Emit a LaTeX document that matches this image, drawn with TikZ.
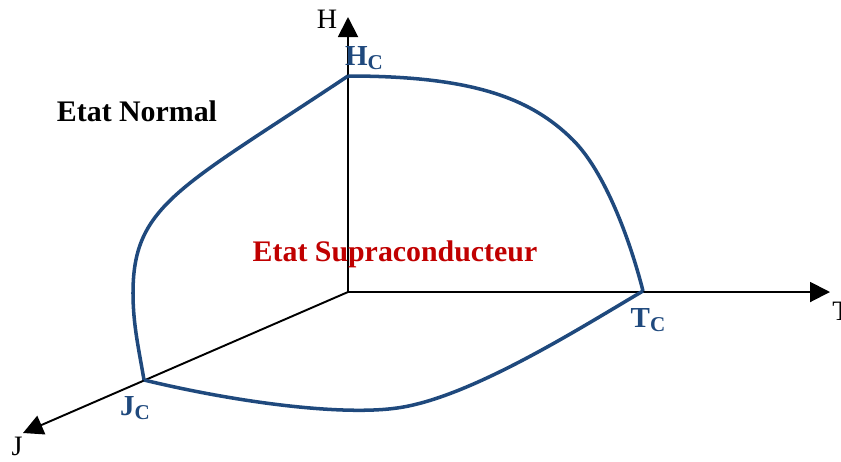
\documentclass[tikz,border=0pt]{standalone}
\usepackage{fontspec}
\setmainfont{Liberation Serif}
\usetikzlibrary{arrows.meta}
\definecolor{bleuc}{HTML}{1F497D}
\definecolor{rouge}{HTML}{C00000}
\tikzset{
  axe/.style={line width=1.1pt,-{Triangle[length=0.4cm,width=0.4cm]}},
  courbe/.style={line width=2pt,bleuc,line join=round},
  lbl/.style={inner sep=0pt,font=\fontsize{16}{18}\selectfont},
  crit/.style={lbl,bleuc,font=\fontsize{16.5}{18}\selectfont\bfseries},
  etat/.style={lbl,font=\fontsize{17}{20}\selectfont\bfseries}
}
\newcommand{\indc}{\raisebox{-0.12em}{\fontsize{12}{12}\selectfont C}}
\begin{document}
\begin{tikzpicture}[x=0.02cm,y=-0.02cm]
\useasboundingbox (0,0) rectangle (841,461);
% axes
\coordinate (O) at (348,292);
\coordinate (Hax) at (348,17);
\coordinate (Tax) at (830,292);
\coordinate (Jax) at (23,433);
\draw[axe] (O) -- (Hax);
\draw[axe] (O) -- (Tax);
\draw[axe] (O) -- (Jax);
\node[lbl] (H) at (327,19) {H};
\node[lbl] (T) at (841,311) {T};
\node[lbl] (J) at (17,446) {J};
% points critiques
\coordinate (Hc) at (348,76);
\coordinate (Tc) at (643,291);
\coordinate (Jc) at (144,380);
\coordinate (a) at (573,140);
\coordinate (b) at (133,293);
\coordinate (c) at (397,408);
% surface critique
\draw[courbe] (Hc) .. controls (470,76) and (530,97) .. (a)
  .. controls (605,172) and (630,240) .. (Tc);
\draw[courbe] (Hc) .. controls (180,188) and (133,205) .. (b)
  .. controls (133,325) and (139,350) .. (Jc);
\draw[courbe] (Jc) .. controls (235,402) and (340,416) .. (c)
  .. controls (470,398) and (580,328) .. (Tc);
\node[crit] (hc) at (364,58) {H\indc};
\node[crit] (tc) at (648,320) {T\indc};
\node[crit] (jc) at (135,408) {J\indc};
% etats
\node[etat] (normal) at (137,111) {Etat Normal};
\node[etat,rouge] (supra) at (395,254) {Etat Supraconducteur};
\end{tikzpicture}
\end{document}
